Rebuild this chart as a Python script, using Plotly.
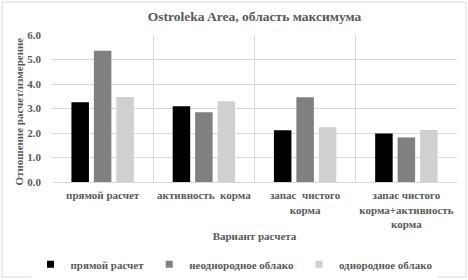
import plotly.graph_objects as go

categories = ["прямой расчет", "активность  корма", "запас  чистого<br>корма", "запас чистого<br>корма+активность<br>корма"]
series_names = ["прямой расчет", "неоднородное облако", "однородное облако"]
direct = [3.26, 3.09, 2.11, 1.98]
nonuniform = [5.36, 2.85, 3.46, 1.82]
uniform = [3.47, 3.30, 2.23, 2.12]
colors = ["#000000", "#808080", "#d0d0d0"]

FONT = "Liberation Serif"
TXT = "#595959"

fig = go.Figure()
for name, vals, c in zip(series_names, [direct, nonuniform, uniform], colors):
    fig.add_trace(go.Bar(x=categories, y=vals, name=name, showlegend=False,
                         marker=dict(color=c, line=dict(width=0))))
# legend entries with small square symbols
for name, c in zip(series_names, colors):
    fig.add_trace(go.Scatter(x=[None], y=[None], mode="markers", name=name,
                             marker=dict(symbol="square", size=7, color=c)))

fig.update_layout(
    width=468, height=280,
    margin=dict(l=52, r=11, t=35, b=98, autoexpand=False),
    paper_bgcolor="white", plot_bgcolor="white",
    barmode="group", bargap=0.335, bargroupgap=0.22,
    font=dict(family=FONT, size=11, color=TXT, weight="bold"),
    title=dict(text="Ostroleka Area, область максимума", x=0.5, xref="paper", xanchor="center",
               y=1 - 16/280, yref="container", yanchor="middle",
               font=dict(family=FONT, size=13.5, color=TXT, weight="bold")),
    showlegend=True,
    legend=dict(orientation="h", x=0.5, xref="container", xanchor="center", y=-0.56, yanchor="middle",
                font=dict(family=FONT, size=11, color=TXT, weight="bold"),
                itemwidth=30, traceorder="normal"),
)
fig.update_xaxes(
    tickson="boundaries", showgrid=True, gridcolor="#d9d9d9", gridwidth=1, tickangle=0,
    showline=True, linecolor="#d9d9d9", ticks="", automargin=False, ticklabelstandoff=3,
    tickfont=dict(family=FONT, size=11, color=TXT, weight="bold"),
    title=dict(text="Вариант расчета", standoff=3, font=dict(family=FONT, size=11, color=TXT, weight="bold")),
)
fig.update_yaxes(
    range=[0, 6], dtick=1, tickformat=".1f", showgrid=True, gridcolor="#d9d9d9", gridwidth=1,
    zeroline=False, showline=False, ticks="", automargin=False, ticklabelstandoff=10,
    tickfont=dict(family=FONT, size=11, color=TXT, weight="bold"),
)
fig.add_annotation(text="Отношение расчет/измерение", textangle=-90, showarrow=False,
                   xref="paper", yref="paper", x=-(52 - 19) / 405, y=0.48,
                   xanchor="center", yanchor="middle",
                   font=dict(family=FONT, size=11, color=TXT, weight="bold"))
fig.add_shape(type="rect", xref="paper", yref="paper", x0=-50/405, x1=1 + 9/405, y0=-95/147, y1=1 + 33/147,
              line=dict(color="#d9d9d9", width=1), fillcolor="rgba(0,0,0,0)", layer="below")

fig.write_html("out.html", config={"displayModeBar": False},
               post_script="document.body.style.margin='0';")
